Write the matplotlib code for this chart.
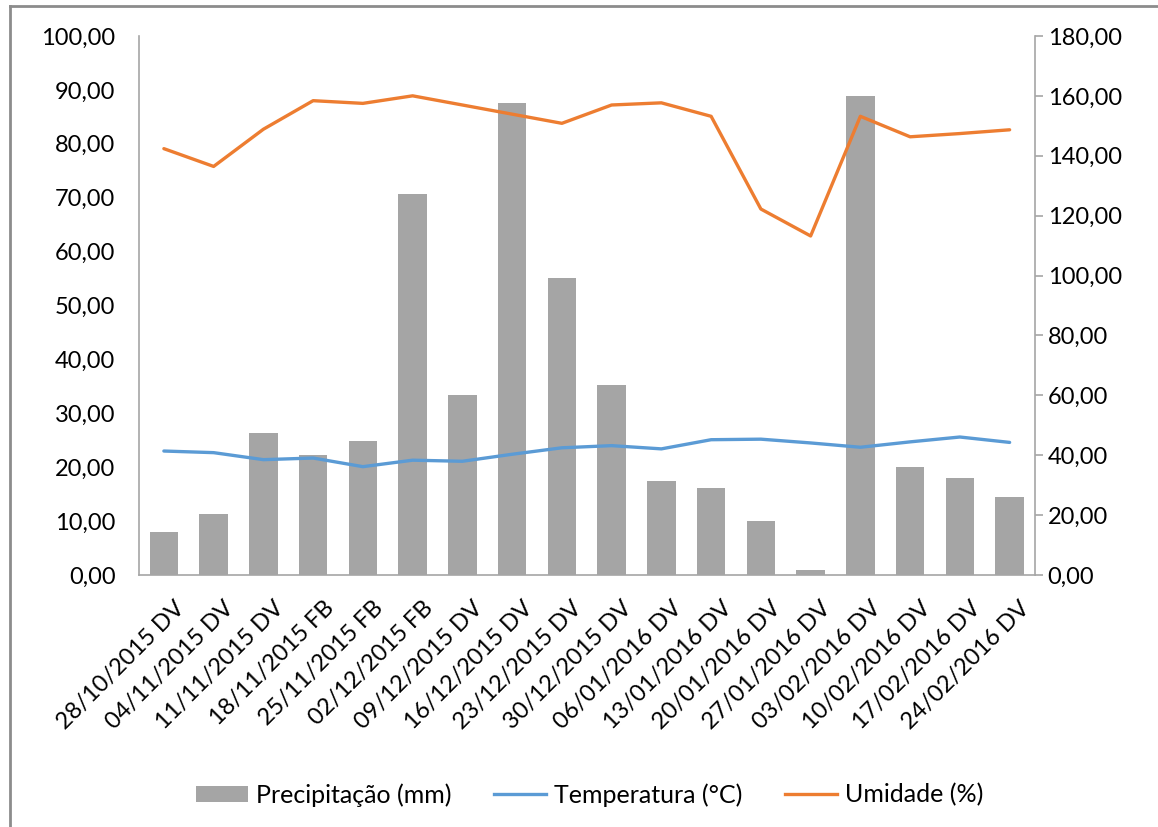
import matplotlib
matplotlib.use('Agg')
import matplotlib.pyplot as plt
import matplotlib.transforms as mtransforms
from matplotlib.ticker import FuncFormatter, MultipleLocator
from matplotlib.patches import Patch
from matplotlib.lines import Line2D

plt.rcParams['font.family'] = ['Lato', 'DejaVu Sans']

# Semanas de coleta
datas = ['28/10/2015 DV', '04/11/2015 DV', '11/11/2015 DV', '18/11/2015 FB',
         '25/11/2015 FB', '02/12/2015 FB', '09/12/2015 DV', '16/12/2015 DV',
         '23/12/2015 DV', '30/12/2015 DV', '06/01/2016 DV', '13/01/2016 DV',
         '20/01/2016 DV', '27/01/2016 DV', '03/02/2016 DV', '10/02/2016 DV',
         '17/02/2016 DV', '24/02/2016 DV']

precipitacao = [14.2, 20.4, 47.4, 40.1, 44.6, 127.1, 60.0, 157.5, 99.2,
                63.3, 31.3, 28.9, 18.2, 1.8, 160.0, 36.2, 32.3, 25.9]

temperatura = [23.0, 22.7, 21.4, 21.7, 20.1, 21.3, 21.1, 22.4, 23.6,
               24.0, 23.4, 25.1, 25.2, 24.5, 23.7, 24.7, 25.6, 24.6]

umidade = [79.1, 75.8, 82.7, 88.0, 87.5, 88.9, 87.2, 85.5, 83.8,
           87.2, 87.6, 85.1, 67.9, 62.9, 85.1, 81.3, 81.9, 82.6]

COR_BARRA = '#A5A5A5'
COR_TEMP = '#5B9BD5'
COR_UMID = '#ED7D31'
COR_EIXO = '#A6A6A6'
FONTE = 17


def virgula(v, pos):
    return f'{v:.2f}'.replace('.', ',')


fig = plt.figure(figsize=(11.58, 8.27), dpi=100)

# moldura externa (so esquerda e topo aparecem)
fig.add_artist(Line2D([10 / 1158, 10 / 1158], [0, 1 - 6 / 827],
                      transform=fig.transFigure, color='#8C8C8C', lw=2))
fig.add_artist(Line2D([10 / 1158, 1], [1 - 6 / 827, 1 - 6 / 827],
                      transform=fig.transFigure, color='#8C8C8C', lw=2))

left, right = 139 / 1158, 1034.5 / 1158
bottom, top = 1 - 575 / 827, 1 - 36 / 827
ax = fig.add_axes([left, bottom, right - left, top - bottom])
ax2 = ax.twinx()

x = list(range(len(datas)))

# barras no eixo secundario
ax2.bar(x, precipitacao, width=0.57, color=COR_BARRA, zorder=2)
ax2.set_ylim(0, 180)
ax2.yaxis.set_major_locator(MultipleLocator(20))
ax2.yaxis.set_major_formatter(FuncFormatter(virgula))

# linhas no eixo principal, desenhadas por cima das barras
ax.set_zorder(ax2.get_zorder() + 1)
ax.patch.set_visible(False)
ax.plot(x, temperatura, color=COR_TEMP, lw=2.4, solid_capstyle='round')
ax.plot(x, umidade, color=COR_UMID, lw=2.4, solid_capstyle='round')
ax.set_ylim(0, 100)
ax.set_xlim(-0.5, len(datas) - 0.5)
ax.yaxis.set_major_locator(MultipleLocator(10))
ax.yaxis.set_major_formatter(FuncFormatter(virgula))

for a in (ax, ax2):
    a.spines['top'].set_visible(False)
    for s in ('left', 'right', 'bottom'):
        a.spines[s].set_color(COR_EIXO)
        a.spines[s].set_linewidth(1.2)

ax.spines['right'].set_visible(False)
ax2.spines['left'].set_visible(False)
ax2.spines['bottom'].set_visible(False)

ax.tick_params(axis='y', length=0, pad=17, labelsize=FONTE, labelcolor='black')
ax2.tick_params(axis='y', length=6, width=1.2, color=COR_EIXO, direction='out',
                pad=3.5, labelsize=FONTE, labelcolor='black')

ax.set_xticks(x)
ax.set_xticklabels(datas, rotation=45, ha='right', rotation_mode='anchor',
                   fontsize=FONTE)
ax.tick_params(axis='x', length=0, pad=16)
desloc = mtransforms.ScaledTranslation(7 / 72, 0, fig.dpi_scale_trans)
for lbl in ax.get_xticklabels():
    lbl.set_transform(lbl.get_transform() + desloc)

handles = [Patch(facecolor=COR_BARRA, edgecolor='none', label='Precipitação (mm)'),
           Line2D([], [], color=COR_TEMP, lw=2.4, label='Temperatura (°C)'),
           Line2D([], [], color=COR_UMID, lw=2.4, label='Umidade (%)')]
fig.legend(handles=handles, loc='center', bbox_to_anchor=(0.509, 1 - 795 / 827),
           ncol=3, frameon=False, fontsize=18, handlelength=2.1,
           handletextpad=0.3, columnspacing=1.7, handleheight=0.6)

fig.savefig('out.png', dpi=100)
